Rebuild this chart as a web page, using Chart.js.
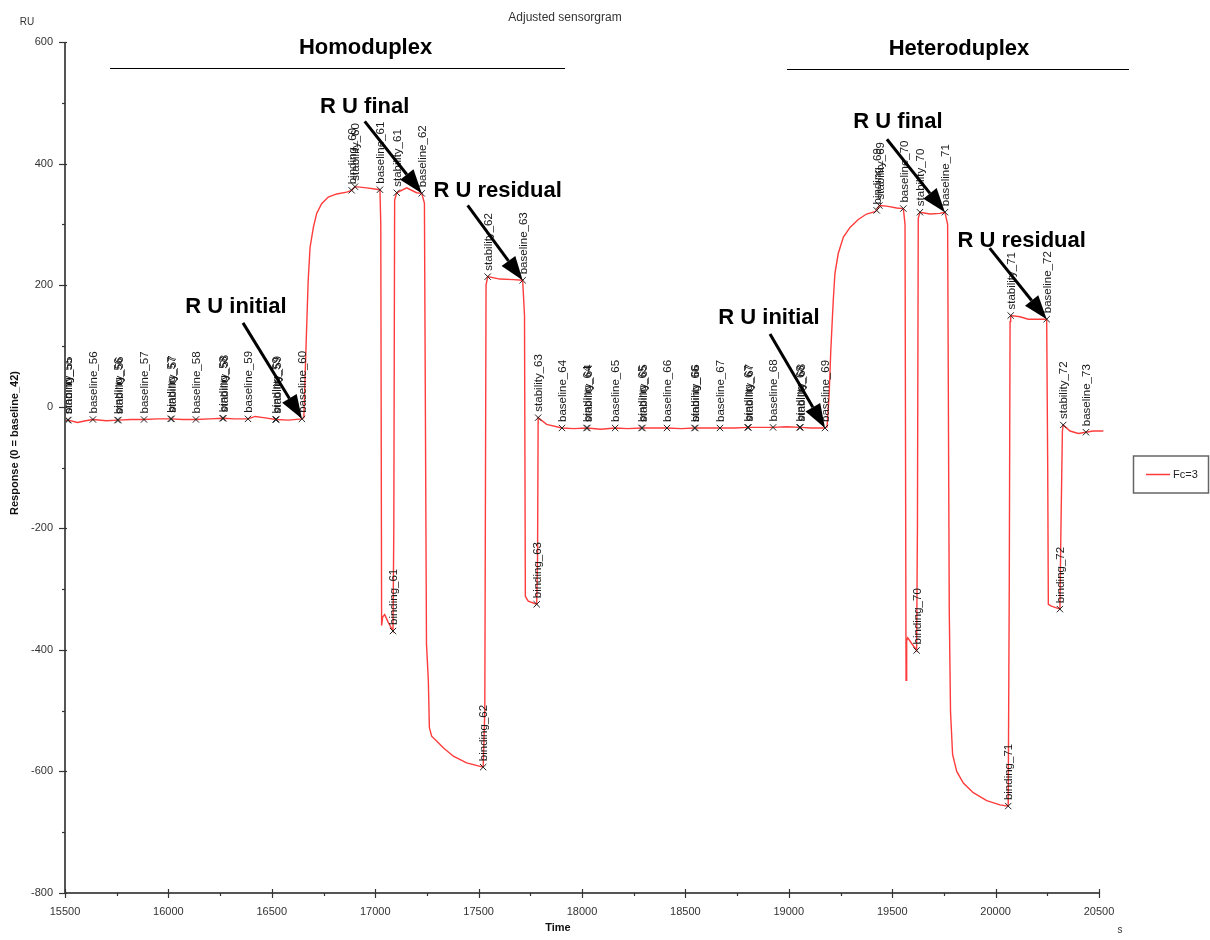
<!DOCTYPE html>
<html>
<head>
<meta charset="utf-8">
<title>Adjusted sensorgram</title>
<script src="https://cdn.jsdelivr.net/npm/chart.js@4/dist/chart.umd.min.js"></script>
<style>
  html, body { margin: 0; padding: 0; background: #ffffff; }
  #wrap { width: 1210px; height: 940px; position: relative; }
</style>
</head>
<body>
<div id="wrap"><canvas id="sensorgram"></canvas></div>
<script>
// ---- Sensorgram trace (Fc=3): time in s, response in RU ----
const traceTime = [
  15500, 15513, 15516, 15560, 15600, 15635, 15700, 15756, 15820, 15882,
  15950, 16013, 16070, 16133, 16200, 16264, 16320, 16385, 16420, 16460,
  16520, 16580, 16646, 16655, 16662, 16668, 16676, 16685, 16701, 16717,
  16741, 16773, 16814, 16862, 16886, 16902, 16959, 17023, 17027, 17031,
  17036, 17046, 17062, 17086, 17090, 17094, 17104, 17152, 17200, 17225,
  17238, 17248, 17257, 17262, 17273, 17297, 17329, 17378, 17442, 17522,
  17530, 17536, 17544, 17603, 17668, 17713, 17722, 17726, 17740, 17781,
  17785, 17788, 17829, 17903, 17960, 18024, 18090, 18160, 18220, 18290,
  18350, 18411, 18480, 18546, 18600, 18667, 18740, 18803, 18860, 18924,
  18990, 19054, 19110, 19175, 19185, 19195, 19203, 19207, 19215, 19223,
  19239, 19264, 19296, 19336, 19376, 19417, 19425, 19438, 19473, 19522,
  19554, 19562, 19567, 19570, 19575, 19585, 19618, 19622, 19626, 19634,
  19683, 19731, 19755, 19768, 19776, 19782, 19792, 19812, 19844, 19892,
  19957, 20021, 20061, 20066, 20070, 20073, 20118, 20158, 20206, 20247,
  20252, 20255, 20270, 20311, 20316, 20323, 20327, 20360, 20400, 20437,
  20472, 20521
];
const traceResponse = [
  -24, -22, -22, -26, -23, -21, -23, -22, -21, -21,
  -20, -20, -21, -21, -20, -19, -20, -20, -16, -18,
  -21, -22, -20, -18, 60, 125, 208, 262, 295, 318,
  334, 345, 350, 353, 356, 362, 360, 357, 300, -360,
  -346, -342, -354, -369, -200, 340, 352, 360, 352, 351,
  335, -390, -451, -528, -542, -550, -561, -575, -586, -593,
  -500, 200, 214, 210, 209, 208, 150, -312, -320, -325,
  -250, -18, -29, -35, -36, -35, -37, -35, -36, -35,
  -35, -35, -36, -35, -35, -35, -35, -34, -34, -34,
  -33, -34, -35, -35, -33, 20, 92, 120, 175, 219,
  252, 279, 295, 308, 317, 321, 323, 331, 330, 327,
  326, 300, -450, -385, -380, -385, -401, -200, 310, 320,
  317, 318, 320, 300, -336, -501, -572, -600, -619, -635,
  -648, -655, -657, -300, 140, 150, 148, 144, 144, 144,
  -100, -325, -328, -333, -200, -40, -30, -40, -44, -42,
  -40, -40
];

// ---- Report points (cycle markers) ----
const markerTime = [
  15513, 15516, 15635, 15754, 15758, 15882, 16011, 16015, 16133, 16262,
  16266, 16385, 16518, 16522, 16646, 16886, 16902, 17023, 17086, 17104,
  17225, 17522, 17544, 17713, 17781, 17788, 17903, 18022, 18026, 18160,
  18288, 18292, 18411, 18544, 18548, 18667, 18801, 18805, 18924, 19052,
  19056, 19175, 19425, 19438, 19554, 19618, 19634, 19755, 20061, 20073,
  20247, 20311, 20327, 20437
];
const markerResponse = [
  -22, -22, -21, -22, -22, -21, -20, -20, -21, -19,
  -19, -20, -21, -21, -20, 356, 362, 357, -369, 352,
  351, -593, 214, 208, -325, -18, -35, -35, -35, -35,
  -35, -35, -35, -35, -35, -35, -34, -34, -34, -34,
  -34, -35, 323, 331, 326, -401, 320, 320, -657, 150,
  144, -333, -30, -42
];
const markerName = [
  'binding_55', 'stability_55', 'baseline_56', 'binding_56', 'stability_56', 'baseline_57', 'binding_57', 'stability_57', 'baseline_58', 'binding_58',
  'stability_58', 'baseline_59', 'binding_59', 'stability_59', 'baseline_60', 'binding_60', 'stability_60', 'baseline_61', 'binding_61', 'stability_61',
  'baseline_62', 'binding_62', 'stability_62', 'baseline_63', 'binding_63', 'stability_63', 'baseline_64', 'binding_64', 'stability_64', 'baseline_65',
  'binding_65', 'stability_65', 'baseline_66', 'binding_66', 'stability_66', 'baseline_67', 'binding_67', 'stability_67', 'baseline_68', 'binding_68',
  'stability_68', 'baseline_69', 'binding_69', 'stability_69', 'baseline_70', 'binding_70', 'stability_70', 'baseline_71', 'binding_71', 'stability_71',
  'baseline_72', 'binding_72', 'stability_72', 'baseline_73'
];

// ---- Axis ticks ----
const xTicks = [15500, 16000, 16500, 17000, 17500, 18000, 18500, 19000, 19500, 20000, 20500];
const yTicks = [-800, -600, -400, -200, 0, 200, 400, 600];

// ---- Sample groups (time spans, s) ----
const groupNames = ['Homoduplex', 'Heteroduplex'];
const groupStart = [15718, 18991];
const groupEnd = [17918, 20645];

// ---- Call-outs: label and the report point it points at ----
const calloutText = ['R U initial', 'R U final', 'R U residual', 'R U initial', 'R U final', 'R U residual'];
const calloutPoint = ['baseline_60', 'baseline_62', 'baseline_63', 'baseline_69', 'baseline_71', 'baseline_72'];

// Layout of the call-outs in pixels, relative to the point they mark
const calloutLayout = [
  { tail: [-59, -96], label: [-66, -112] },
  { tail: [-57, -72], label: [-57, -86] },
  { tail: [-55, -75], label: [-25, -89] },
  { tail: [-55, -94], label: [-56, -110] },
  { tail: [-58, -73], label: [-47, -90] },
  { tail: [-57, -71], label: [-25, -78] }
];
// Horizontal shift of each group header from the middle of its bar
const headerShift = [28, 1];

const FONT = '"Liberation Sans", Arial, sans-serif';
const TRACE_RED = 'rgb(255, 60, 60)';
const AXIS_GREY = '#555555';

const tracePoints = traceTime.map((t, i) => ({ x: t, y: traceResponse[i] }));
const markerPoints = markerTime.map((t, i) => ({ x: t, y: markerResponse[i] }));

function drawArrow(ctx, x0, y0, x1, y1) {
  const ang = Math.atan2(y1 - y0, x1 - x0);
  const headLen = 24, headHalf = 8.5;
  const bx = x1 - headLen * Math.cos(ang), by = y1 - headLen * Math.sin(ang);
  ctx.save();
  ctx.strokeStyle = '#000';
  ctx.fillStyle = '#000';
  ctx.lineWidth = 3;
  ctx.beginPath();
  ctx.moveTo(x0, y0);
  ctx.lineTo(bx, by);
  ctx.stroke();
  ctx.beginPath();
  ctx.moveTo(x1, y1);
  ctx.lineTo(bx + headHalf * Math.sin(ang), by - headHalf * Math.cos(ang));
  ctx.lineTo(bx - headHalf * Math.sin(ang), by + headHalf * Math.cos(ang));
  ctx.closePath();
  ctx.fill();
  ctx.restore();
}

// Axis lines, major/minor tick marks, units, titles and legend box
const frame = {
  id: 'frame',
  afterDraw(chart) {
    const { ctx, chartArea: a, scales: { x, y } } = chart;
    ctx.save();
    ctx.strokeStyle = AXIS_GREY;
    ctx.lineWidth = 2;
    ctx.beginPath();
    ctx.moveTo(a.left, a.top);
    ctx.lineTo(a.left, a.bottom);
    ctx.lineTo(a.right, a.bottom);
    ctx.stroke();
    ctx.lineWidth = 1.2;
    ctx.strokeStyle = '#333';
    for (let v = x.min; v <= x.max; v += 250) {
      const px = Math.round(x.getPixelForValue(v)) + 0.5;
      const major = v % 500 === 0;
      ctx.beginPath();
      ctx.moveTo(px, a.bottom - (major ? 4 : 0));
      ctx.lineTo(px, a.bottom + (major ? 5 : 3));
      ctx.stroke();
    }
    for (let v = y.min; v <= y.max; v += 100) {
      const py = Math.round(y.getPixelForValue(v)) + 0.5;
      const major = v % 200 === 0;
      ctx.beginPath();
      ctx.moveTo(a.left - (major ? 6 : 3), py);
      ctx.lineTo(a.left + (major ? 2 : 0), py);
      ctx.stroke();
    }
    ctx.fillStyle = '#333';
    ctx.textAlign = 'center';
    ctx.textBaseline = 'middle';
    ctx.font = '12px ' + FONT;
    ctx.fillText('Adjusted sensorgram', 565, 18);
    ctx.font = '10px ' + FONT;
    ctx.fillText('RU', 27, 22);
    ctx.fillText('s', 1120, 930);
    ctx.fillStyle = '#111';
    ctx.font = 'bold 11px ' + FONT;
    ctx.fillText('Time', (a.left + a.right) / 2 - 24, 928);
    ctx.save();
    ctx.translate(15, 443);
    ctx.rotate(-Math.PI / 2);
    ctx.fillText('Response (0 = baseline_42)', 0, 0);
    ctx.restore();

    // legend
    const lx = a.right + 34, ly = (a.top + a.bottom) / 2 - 12;
    ctx.strokeStyle = '#666';
    ctx.lineWidth = 1.5;
    ctx.strokeRect(lx + 0.5, ly + 0.5, 75, 37);
    ctx.strokeStyle = TRACE_RED;
    ctx.lineWidth = 1.5;
    ctx.beginPath();
    ctx.moveTo(lx + 13, ly + 19);
    ctx.lineTo(lx + 37, ly + 19);
    ctx.stroke();
    ctx.fillStyle = '#222';
    ctx.textAlign = 'left';
    ctx.font = '11px ' + FONT;
    ctx.fillText('Fc=3', lx + 40, ly + 19);
    ctx.restore();
  }
};

// Vertical report-point names above each cross
const pointNames = {
  id: 'pointNames',
  afterDatasetsDraw(chart) {
    const { ctx } = chart;
    const meta = chart.getDatasetMeta(1);
    ctx.save();
    ctx.fillStyle = '#1a1a1a';
    ctx.font = '11.5px ' + FONT;
    ctx.textAlign = 'left';
    ctx.textBaseline = 'middle';
    meta.data.forEach((el, i) => {
      ctx.save();
      ctx.translate(el.x + 1, el.y - 6);
      ctx.rotate(-Math.PI / 2);
      ctx.fillText(markerName[i], 0, 0);
      ctx.restore();
    });
    ctx.restore();
  }
};

// Group headers and arrow call-outs
const callouts = {
  id: 'callouts',
  afterDraw(chart) {
    const { ctx, chartArea: a, scales: { x } } = chart;
    const meta = chart.getDatasetMeta(1);
    ctx.save();
    ctx.fillStyle = '#000';
    ctx.strokeStyle = '#000';
    ctx.textAlign = 'center';
    ctx.textBaseline = 'middle';
    ctx.font = 'bold 22px ' + FONT;
    groupNames.forEach((name, i) => {
      const x0 = x.getPixelForValue(groupStart[i]);
      const x1 = x.getPixelForValue(groupEnd[i]);
      const yLine = a.top + 26 + i;
      ctx.lineWidth = 1.2;
      ctx.beginPath();
      ctx.moveTo(x0, yLine + 0.5);
      ctx.lineTo(x1, yLine + 0.5);
      ctx.stroke();
      ctx.fillText(name, (x0 + x1) / 2 + headerShift[i], yLine - 20);
    });
    calloutText.forEach((txt, i) => {
      const idx = markerName.indexOf(calloutPoint[i]);
      const el = meta.data[idx];
      const L = calloutLayout[i];
      drawArrow(ctx, el.x + L.tail[0], el.y + L.tail[1], el.x, el.y);
      ctx.fillText(txt, el.x + L.label[0], el.y + L.label[1]);
    });
    ctx.restore();
  }
};

new Chart(document.getElementById('sensorgram'), {
  type: 'scatter',
  data: {
    datasets: [
      {
        label: 'Fc=3',
        data: tracePoints,
        showLine: true,
        borderColor: TRACE_RED,
        borderWidth: 1.4,
        pointRadius: 0,
        tension: 0,
        clip: { left: 0, top: 0, right: 6, bottom: 0 },
        order: 2
      },
      {
        label: 'report points',
        data: markerPoints,
        showLine: false,
        pointStyle: 'crossRot',
        pointRadius: 4.5,
        borderColor: '#222',
        borderWidth: 1,
        order: 1
      }
    ]
  },
  options: {
    responsive: true,
    maintainAspectRatio: false,
    animation: false,
    events: [],
    layout: { padding: { left: 0, right: 111, top: 42, bottom: 0 } },
    plugins: { legend: { display: false }, tooltip: { enabled: false }, title: { display: false } },
    scales: {
      x: {
        type: 'linear',
        min: xTicks[0],
        max: xTicks[xTicks.length - 1],
        grid: { display: false },
        border: { display: false },
        afterBuildTicks: s => { s.ticks = xTicks.map(v => ({ value: v })); },
        afterFit: s => { s.height = 47; },
        ticks: { color: '#333', font: { family: FONT, size: 11 }, padding: 4, maxRotation: 0, callback: v => String(v) }
      },
      y: {
        type: 'linear',
        min: yTicks[0],
        max: yTicks[yTicks.length - 1],
        grid: { display: false },
        border: { display: false },
        afterBuildTicks: s => { s.ticks = yTicks.map(v => ({ value: v })); },
        afterFit: s => { s.width = 65; },
        ticks: { color: '#333', font: { family: FONT, size: 11 }, padding: 4, callback: v => String(v) }
      }
    }
  },
  plugins: [frame, pointNames, callouts]
});
</script>
</body>
</html>
